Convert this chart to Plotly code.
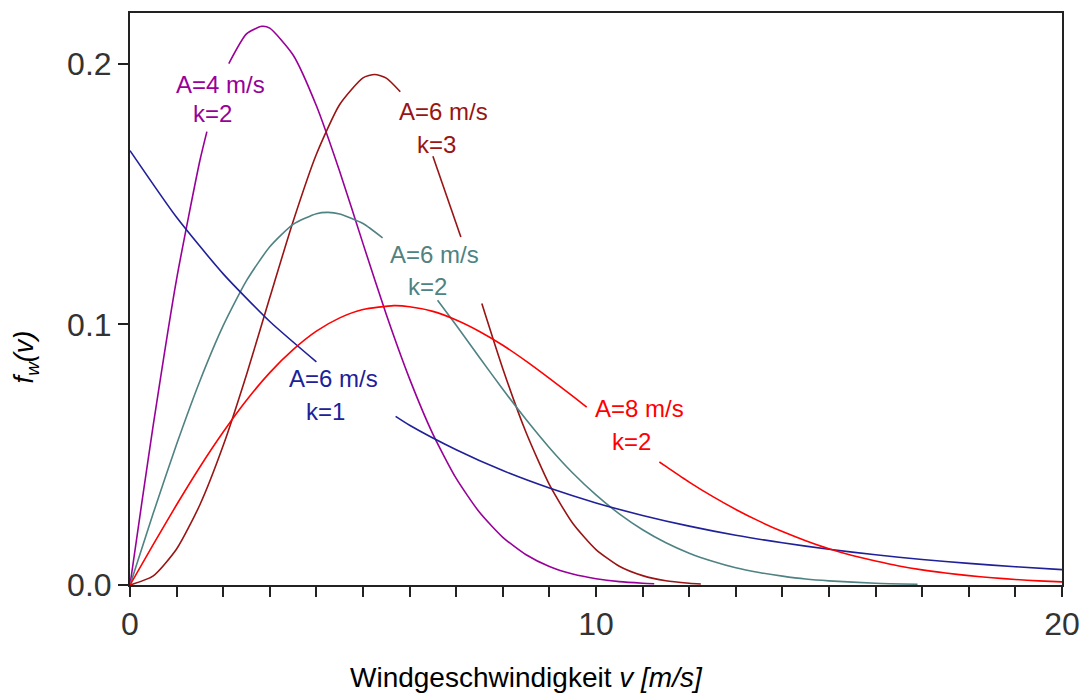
import plotly.graph_objects as go

# ---- data (None = gap left for a label) ----
v_a4k2 = [0, 0.25, 0.5, 1, 1.5, 1.65, 1.9, 2.12, 2.5, 2.83, 3, 3.5, 4, 4.5, 5, 5.5, 6, 6.5, 7, 7.5, 8, 8.5, 9, 9.5, 10, 10.5, 11, 11.25]
f_a4k2 = [0, 0.0311, 0.0615, 0.1174, 0.1629, 0.1740, None, 0.2001, 0.2115, 0.2144, 0.2137, 0.2034, 0.1839, 0.1587, 0.1310, 0.1038, 0.0791, 0.0579, 0.0409, 0.0279, 0.0183, 0.0116, 0.0071, 0.0042, 0.0024, 0.0013, 0.0007, 0.0005]

v_a6k3 = [0, 0.5, 1, 1.5, 2, 2.5, 3, 3.5, 4, 4.5, 5, 5.25, 5.5, 5.8, 6.2, 6.5, 7.1, 7.3, 7.55, 8, 8.5, 9, 9.5, 10, 10.5, 11, 11.5, 12, 12.25]
f_a6k3 = [0, 0.0035, 0.0138, 0.0308, 0.0535, 0.0807, 0.1103, 0.1395, 0.1653, 0.1844, 0.1946, 0.1959, 0.1945, 0.1893, None, 0.1645, 0.1335, None, 0.1080, 0.0830, 0.0585, 0.0385, 0.0237, 0.0136, 0.0072, 0.0036, 0.0016, 0.0007, 0.0004]

v_a6k2 = [0, 0.5, 1, 1.5, 2, 2.5, 3, 3.5, 4, 4.25, 4.5, 5, 5.42, 6, 6.6, 7, 7.5, 8, 8.5, 9, 9.5, 10, 10.5, 11, 11.5, 12, 12.5, 13, 13.5, 14, 14.5, 15, 16, 16.9]
f_a6k2 = [0, 0.0276, 0.0540, 0.0783, 0.0995, 0.1168, 0.1298, 0.1384, 0.1425, 0.1430, 0.1424, 0.1387, 0.1332, None, 0.1093, 0.0997, 0.0873, 0.0751, 0.0635, 0.0527, 0.0430, 0.0346, 0.0273, 0.0212, 0.0162, 0.0122, 0.0091, 0.0066, 0.0048, 0.0034, 0.0023, 0.0016, 0.0007, 0.0003]

v_a8k2 = [0, 0.5, 1, 1.5, 2, 2.5, 3, 3.5, 4, 4.5, 5, 5.66, 6, 6.5, 7, 7.5, 8, 8.5, 9, 9.5, 9.8, 10.5, 11.36, 11.5, 12, 12.5, 13, 13.5, 14, 14.5, 15, 15.5, 16, 16.5, 17, 17.5, 18, 18.5, 19, 19.5, 20]
f_a8k2 = [0, 0.0156, 0.0308, 0.0453, 0.0587, 0.0709, 0.0815, 0.0903, 0.0974, 0.1025, 0.1057, 0.1072, 0.1068, 0.1050, 0.1017, 0.0973, 0.0920, 0.0859, 0.0793, 0.0725, 0.0683, None, 0.0472, 0.0455, 0.0395, 0.0340, 0.0290, 0.0245, 0.0205, 0.0170, 0.0139, 0.0113, 0.0092, 0.0073, 0.0058, 0.0046, 0.0036, 0.0028, 0.0021, 0.0016, 0.0012]

v_a6k1 = [0, 1, 2, 3, 4, 4.8, 5.7, 6, 7, 8, 9, 10, 11, 12, 13, 14, 15, 16, 17, 18, 19, 20]
f_a6k1 = [0.1667, 0.1411, 0.1194, 0.1011, 0.0856, None, 0.0647, 0.0613, 0.0519, 0.0439, 0.0372, 0.0315, 0.0267, 0.0226, 0.0191, 0.0162, 0.0137, 0.0116, 0.0098, 0.0083, 0.0070, 0.0059]

label_a = ["A=4 m/s", "A=6 m/s", "A=6 m/s", "A=6 m/s", "A=8 m/s"]
label_k = ["k=2", "k=3", "k=2", "k=1", "k=2"]

x_tick_vals = list(range(0, 21))
x_tick_text = ["0" if t == 0 else "10" if t == 10 else "20" if t == 20 else " " for t in x_tick_vals]
y_tick_vals = [0.0, 0.1, 0.2]
y_tick_text = ["0.0", "0.1", "0.2"]

FONT = "Liberation Sans, Arial, sans-serif"
colors = ["#990099", "#991414", "#4F8282", "#202099", "#FF0000"]
series = [(v_a4k2, f_a4k2), (v_a6k3, f_a6k3), (v_a6k2, f_a6k2), (v_a6k1, f_a6k1), (v_a8k2, f_a8k2)]
label_pos_a = [(1.95, 0.192), (6.73, 0.1816), (6.54, 0.127), (4.37, 0.0792), (10.93, 0.0677)]
label_pos_k = [(1.78, 0.181), (6.58, 0.169), (6.39, 0.1147), (4.20, 0.0665), (10.76, 0.0551)]

fig = go.Figure()
for (vx, fy), c in zip(series, colors):
    fig.add_trace(go.Scatter(x=vx, y=fy, mode="lines", connectgaps=False,
                             line=dict(color=c, width=1.6, shape="spline", smoothing=0.6),
                             showlegend=False, hoverinfo="skip"))

for i in range(5):
    for txt, (px, py) in ((label_a[i], label_pos_a[i]), (label_k[i], label_pos_k[i])):
        fig.add_annotation(x=px, y=py, xref="x", yref="y", text=txt, showarrow=False,
                           xanchor="center", yanchor="middle",
                           font=dict(family=FONT, size=24, color=colors[i]))

fig.add_annotation(xref="paper", yref="paper", x=-0.112, y=0.399, textangle=-90,
                   text="<i>f</i><sub><i>w</i></sub><i>(v)</i>", showarrow=False,
                   xanchor="center", yanchor="middle",
                   font=dict(family=FONT, size=27, color="#000000"))
fig.add_annotation(xref="paper", yref="paper", x=0.4255, y=-0.162,
                   text="Windgeschwindigkeit <i>v [m/s]</i>", showarrow=False,
                   xanchor="center", yanchor="middle",
                   font=dict(family=FONT, size=28, color="#000000"))

fig.update_layout(
    width=1091, height=697,
    margin=dict(l=130, r=28, t=11, b=112),
    paper_bgcolor="white", plot_bgcolor="white",
    xaxis=dict(range=[0, 20], tickmode="array", tickvals=x_tick_vals, ticktext=x_tick_text,
               ticks="outside", ticklen=10, tickwidth=1.6, tickcolor="#222222",
               showline=True, linecolor="#222222", linewidth=2, mirror=True,
               showgrid=False, zeroline=False,
               tickfont=dict(family=FONT, size=32, color="#333333")),
    yaxis=dict(range=[0, 0.2195], tickmode="array", tickvals=y_tick_vals, ticktext=y_tick_text,
               ticks="outside", ticklen=10, tickwidth=1.6, tickcolor="#222222",
               showline=True, linecolor="#222222", linewidth=2, mirror=True,
               showgrid=False, zeroline=False,
               tickfont=dict(family=FONT, size=32, color="#333333")),
)

fig.write_html("out.html")
